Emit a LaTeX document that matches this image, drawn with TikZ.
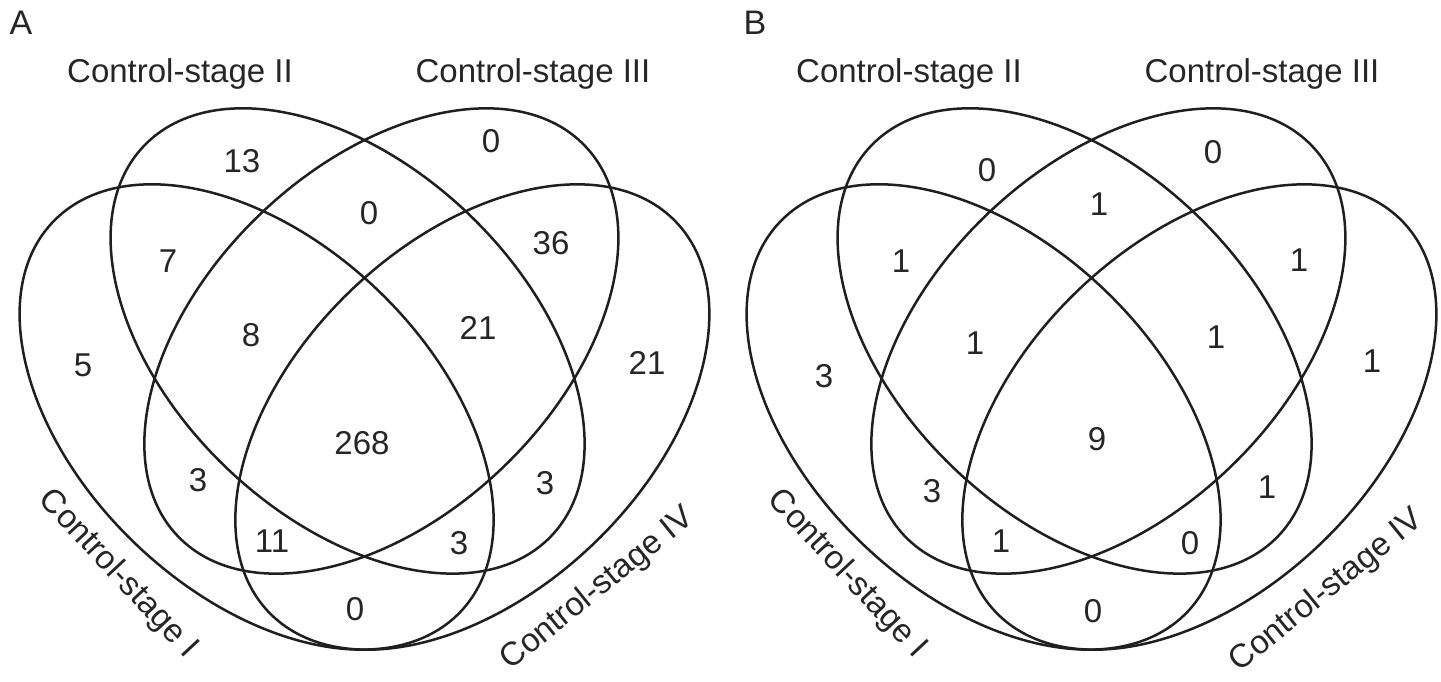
\documentclass[tikz,border=0pt]{standalone}
\usepackage{fontspec}
\setmainfont{Liberation Sans}
\newcommand\drawvennset{%
  \coordinate (cI) at (256.6,417);
  \coordinate (cII) at (347.6,341);
  \coordinate (cIII) at (381.4,341);
  \coordinate (cIV) at (472.4,417);
  \draw[venn, rotate around={-43.8:(cI)}] (cI) ellipse [x radius=282pt, y radius=175.4pt];
  \draw[venn, rotate around={-43.8:(cII)}] (cII) ellipse [x radius=282pt, y radius=175.4pt];
  \draw[venn, rotate around={43.8:(cIII)}] (cIII) ellipse [x radius=282pt, y radius=175.4pt];
  \draw[venn, rotate around={43.8:(cIV)}] (cIV) ellipse [x radius=282pt, y radius=175.4pt];
}
\begin{document}
\begin{tikzpicture}[x=1pt,y=-1pt,
  venn/.style={line width=2.5pt, draw=black!88},
  lbl/.style={font=\fontsize{33}{40}\selectfont, text=black!85, inner sep=0pt},
  num/.style={font=\fontsize{33}{40}\selectfont, text=black!85, inner sep=0pt},
  panel/.style={font=\fontsize{34}{40}\selectfont, text=black!85, inner sep=0pt}]
\useasboundingbox (0,0) rectangle (1441,682);
\fill[white] (0,0) rectangle (1441,682);

% ---------------- Panel A ----------------
\begin{scope}
  \drawvennset
  \node[panel] (pA) at (21,23) {A};
  \node[lbl] (aII) at (180,73.5) {Control-stage II};
  \node[lbl] (aIII) at (533,73.5) {Control-stage III};
  \node[lbl, rotate=-47] (aI) at (118,574) {Control-stage I};
  \node[lbl, rotate=39] (aIV) at (598,589) {Control-stage IV};
  \node[num] (a1) at (242,161) {13};
  \node[num] (a2) at (491,141) {0};
  \node[num] (a3) at (369,213) {0};
  \node[num] (a4) at (168,261) {7};
  \node[num] (a5) at (551,243) {36};
  \node[num] (a6) at (251,335) {8};
  \node[num] (a7) at (478,328) {21};
  \node[num] (a8) at (83,365) {5};
  \node[num] (a9) at (647,363) {21};
  \node[num] (a10) at (362,443) {268};
  \node[num] (a11) at (198,480) {3};
  \node[num] (a12) at (545,483) {3};
  \node[num] (a13) at (272,541) {11};
  \node[num] (a14) at (459,543) {3};
  \node[num] (a15) at (355,609) {0};
\end{scope}

% ---------------- Panel B ----------------
\begin{scope}[xshift=727pt]
  \drawvennset
  \node[panel] (pB) at (28,23) {B};
  \node[lbl] (bII) at (182,73.5) {Control-stage II};
  \node[lbl] (bIII) at (535,73.5) {Control-stage III};
  \node[lbl, rotate=-47] (bI) at (120,574) {Control-stage I};
  \node[lbl, rotate=39] (bIV) at (600,591) {Control-stage IV};
  \node[num] (b1) at (260,170) {0};
  \node[num] (b2) at (486,152) {0};
  \node[num] (b3) at (372,204) {1};
  \node[num] (b4) at (174,261) {1};
  \node[num] (b5) at (572,260) {1};
  \node[num] (b6) at (248,343) {1};
  \node[num] (b7) at (489,337) {1};
  \node[num] (b8) at (97,376) {3};
  \node[num] (b9) at (645,361) {1};
  \node[num] (b10) at (370,439) {9};
  \node[num] (b11) at (205,491) {3};
  \node[num] (b12) at (540,487) {1};
  \node[num] (b13) at (274,541) {1};
  \node[num] (b14) at (463,543) {0};
  \node[num] (b15) at (366,611) {0};
\end{scope}
\end{tikzpicture}
\end{document}
